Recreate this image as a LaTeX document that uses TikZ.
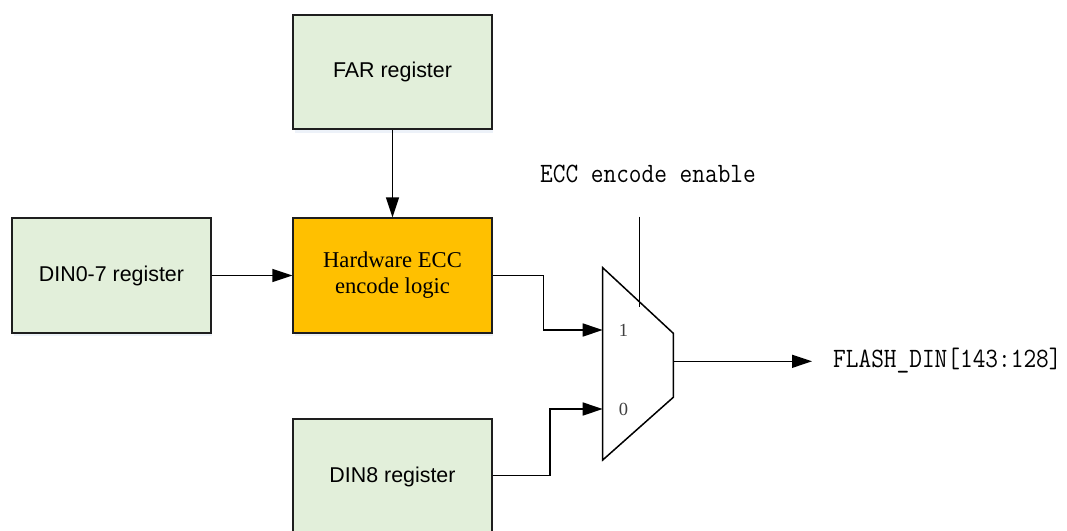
\documentclass[tikz,border=0pt]{standalone}
\usepackage{fontspec}
\setmainfont{Liberation Serif}
\newfontfamily\boxsans{Liberation Sans}
\newfontfamily\sigfont[FakeStretch=0.88]{Latin Modern Mono}
\usetikzlibrary{arrows.meta,shadows}

\definecolor{regfill}{HTML}{E2EFDA}
\definecolor{logicfill}{HTML}{FFC000}
\definecolor{edgegray}{HTML}{1E1E1E}
\definecolor{portgray}{HTML}{404040}
\definecolor{shadowblue}{HTML}{C4D4EA}

\tikzset{
  block/.style={draw=edgegray, line width=1.8pt, minimum width=198.5pt,
    minimum height=114.5pt, inner sep=0pt, align=center,
    drop shadow={shadow xshift=1.5pt, shadow yshift=-3.5pt, opacity=0.3, fill=shadowblue}},
  regbox/.style={block, fill=regfill, font=\boxsans\fontsize{21.4}{26}\selectfont},
  logicbox/.style={block, fill=logicfill, font=\fontsize{22.6}{26}\selectfont},
  wire/.style={line width=1.5pt, draw=black},
  arr/.style={wire, -{Triangle[length=20pt,width=13pt]}},
  sig/.style={font=\sigfont\fontsize{28}{30}\selectfont, inner sep=0pt},
  port/.style={font=\fontsize{18.5}{20}\selectfont, text=portgray, inner sep=0pt}
}

\begin{document}
\begin{tikzpicture}[x=1pt, y=-1pt]
  \useasboundingbox (0,0) rectangle (1067,530);
  \begin{scope}
    \clip (0,0) rectangle (1067,530);

    % register and logic blocks
    \node[regbox]   (far)   at (392.5, 72.0)  {FAR register};
    \node[regbox]   (din07) at (111.5, 275.5) {DIN0-7 register};
    \node[logicbox] (ecc)   at (392.5, 275.5) {Hardware ECC\\encode logic};
    \node[regbox]   (din8)  at (392.5, 476.5) {DIN8 register};

    % 2:1 multiplexer
    \draw[line width=1.5pt, draw=black, line join=miter]
      (602.7,267.7) -- (673.3,333.3) -- (673.3,397.3) -- (602.7,460.0) -- cycle;
    \coordinate (mux1)   at (602.7,330.0);
    \coordinate (mux0)   at (602.7,409.0);
    \coordinate (muxout) at (673.3,361.3);
    \coordinate (muxsel) at (639.3,306.7);
    \node[port] (p1) at (623.5,330.0) {1};
    \node[port] (p0) at (623.5,409.0) {0};

    % select input
    \node[sig] (enable) at (648.0,174.0) {ECC encode enable};
    \coordinate (selin) at (639.3,216.7);
    \draw[wire] (selin) -- (muxsel);

    % output
    \node[sig, anchor=west] (flash) at (833.0,360.5) {FLASH\_DIN[143:128]};
    \draw[arr] (muxout) -- ([xshift=-21pt]flash.west |- muxout);

    % data paths
    \draw[arr] (far) -- (ecc);
    \draw[arr] (din07) -- (ecc);
    \draw[arr] (ecc.east) -- ++(51,0) |- (mux1);
    \draw[arr] (din8.east |- 0,475.5) -- ++(57.5,0) |- (mux0);
  \end{scope}
\end{tikzpicture}
\end{document}
